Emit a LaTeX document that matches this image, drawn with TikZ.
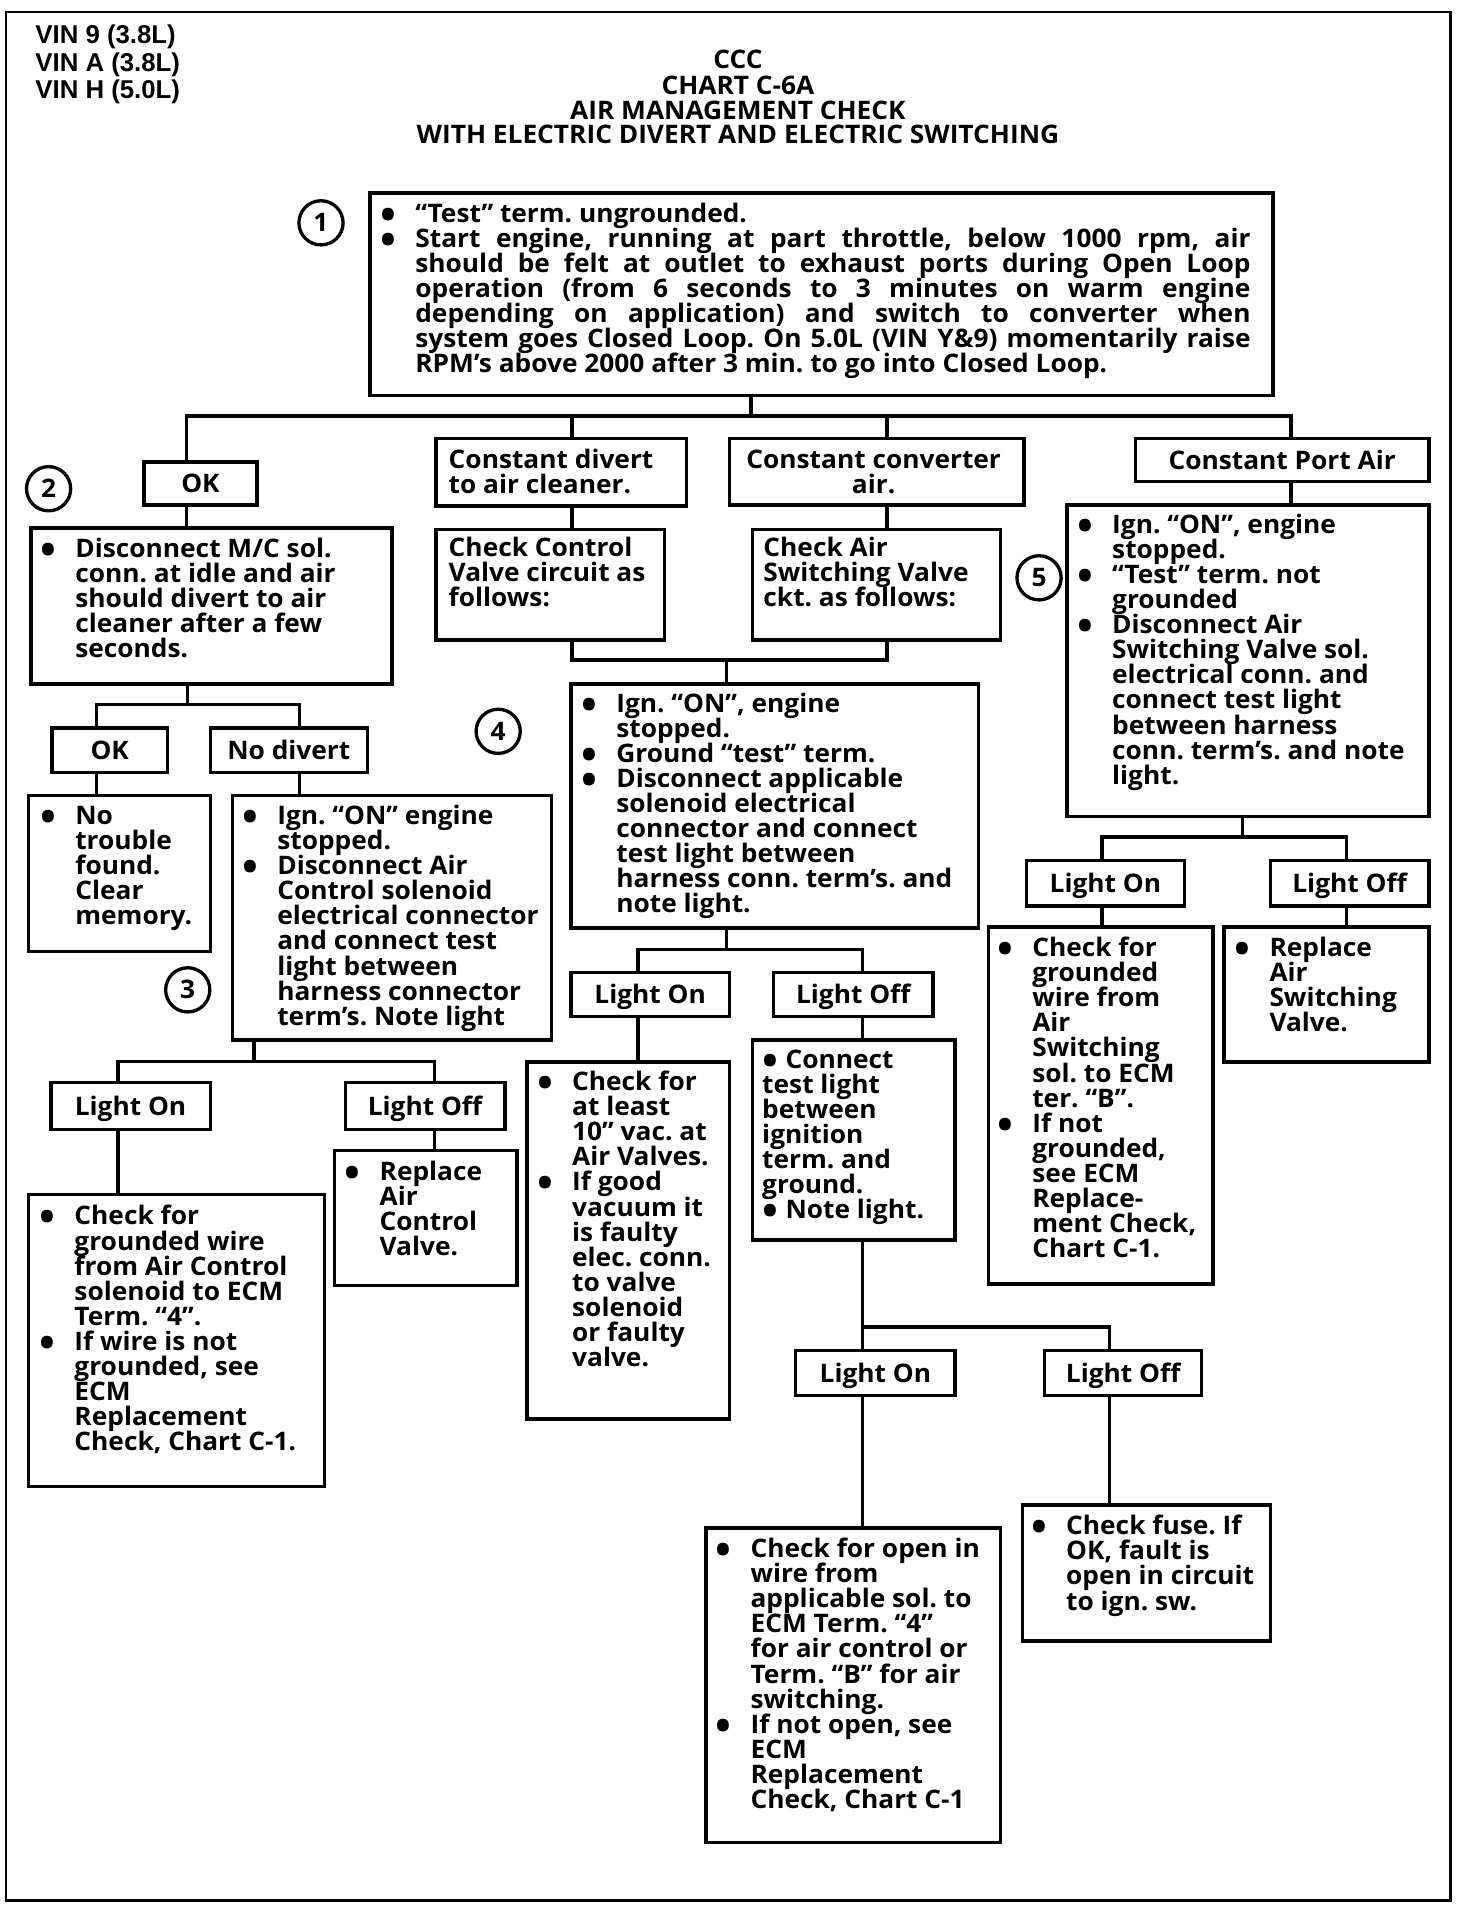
\documentclass[tikz,border=0pt]{standalone}
\usepackage{fontspec}
\usepackage{graphicx}
\setmainfont{Open Sans}[FakeStretch=1.03]
\newfontfamily\vinfont{Liberation Sans}
\newcommand\bodyfont{\bfseries\frenchspacing\fontsize{20.8}{20.4}\selectfont}
\newcommand\TL[1]{\vtop{\let\\\cr\baselineskip=20.4pt\lineskiplimit=-100pt\lineskip=0pt\halign{##\hfil\cr#1\crcr}}}
\newcommand\CL[1]{\vtop{\let\\\cr\baselineskip=20.4pt\lineskiplimit=-100pt\lineskip=0pt\halign{\hfil##\hfil\cr#1\crcr}}}
\newcommand\bul{\raisebox{-5.7pt}{\scalebox{1.6}{•}}}
\newcommand\Bu{\makebox[44pt][c]{\bul}}
\newcommand\Bs{\makebox[19pt][l]{\bul}}
\newcommand\In{\hspace*{44pt}}
\newcommand\J[1]{\makebox[680.7pt][s]{#1}}
\newcommand\Bx[5]{\node[bx, minimum width={#4-#2}, minimum height={#5-#3}] (#1) at (#2,#3) {};}
\newcommand\Lb[6]{\node[bx, lbl, minimum width={#4-#2}, minimum height={#5-#3}] (#1) at (#2,#3) {#6};}
\tikzset{
  bx/.style={draw, line width=2.8pt, inner sep=0pt, anchor=north west},
  lbl/.style={font=\bodyfont, text height=14.8pt, text depth=0pt},
  tx/.style={anchor=base west, inner sep=0pt, font=\bodyfont},
  ctx/.style={anchor=base, inner sep=0pt, font=\bodyfont},
  ln/.style={line width=2.8pt},
  circ/.style={draw, circle, line width=2.7pt, minimum size=36pt, inner sep=0pt, font=\bodyfont},
  outerframe/.style={line width=2pt},
  vin/.style={anchor=base west, inner sep=0pt, font=\vinfont\bfseries\fontsize{21}{21}\selectfont},
  ttl/.style={anchor=base, inner sep=0pt, font=\bodyfont}
}
\begin{document}
\begin{tikzpicture}[x=1pt, y=-1pt]
\fill[white] (0,0) rectangle (1200,1568);
\useasboundingbox (0,0) rectangle (1200,1568);
\draw[outerframe] (5,10) rectangle (1182,1549);

% header
\node[vin] (v1) at (28.7,35.6) {VIN 9 (3.8L)};
\node[vin] (v2) at (28.7,58) {VIN A (3.8L)};
\node[vin] (v3) at (28.7,80) {VIN H (5.0L)};
\node[ttl] (h1) at (601.4,56) {CCC};
\node[ttl] (h2) at (601.4,77) {CHART C-6A};
\node[ttl] (h3) at (601.4,97) {AIR MANAGEMENT CHECK};
\node[ttl] (h4) at (601.4,117) {WITH ELECTRIC DIVERT AND ELECTRIC SWITCHING};

% circles
\node[circ] (c1) at (261.6,181.6) {1};
\node[circ] (c2) at (39.6,398.3) {2};
\node[circ] (c3) at (153,806.7) {3};
\node[circ] (c4) at (406,596) {4};
\node[circ] (c5) at (846.8,470.9) {5};

% boxes
\Bx{b1}{300}{156}{1036}{321}
\Lb{ok1}{116}{375}{208}{410}{OK}
\Bx{cd}{354}{356}{558}{411}
\Bx{cc}{593}{356}{833}{410}
\Lb{cpa}{924}{356}{1163}{391}{Constant Port Air}
\Bx{b2}{24}{429}{318}{556}
\Bx{ccv}{354}{430}{540}{520}
\Bx{casv}{612}{430}{814}{520}
\Bx{b5}{868}{410}{1163}{664}
\Bx{b4}{464}{556}{796}{755}
\Lb{ok2}{41}{592}{135}{628}{OK}
\Lb{nd}{170}{592}{298}{628}{No divert}
\Bx{ntf}{22}{647}{170}{774}
\Bx{b3}{188}{647}{448}{846}
\Lb{lon4}{464}{791}{593}{827}{Light On}
\Lb{loff4}{629}{791}{759}{827}{Light Off}
\Lb{lon5}{835}{700}{964}{737}{Light On}
\Lb{loff5}{1034}{700}{1163}{737}{Light Off}
\Bx{b5on}{804}{754}{987}{1045}
\Bx{b5off}{996}{754}{1163}{864}
\Lb{lon3}{40}{881}{170}{919}{Light On}
\Lb{loff3}{280}{881}{410}{919}{Light Off}
\Bx{b3on}{22}{972}{263}{1210}
\Bx{b3off}{271}{936}{420}{1046}
\Bx{b4on}{428}{864}{593}{1155}
\Bx{b4off}{612}{846}{777}{1009}
\Lb{lon6}{647}{1099}{777}{1136}{Light On}
\Lb{loff6}{850}{1099}{978}{1136}{Light Off}
\Bx{b6on}{574}{1244}{814}{1500}
\Bx{b6off}{832}{1225}{1034}{1336}

% texts
\node[tx] (b1t) at (294.3,181.5) {\TL{\Bu “Test” term. ungrounded.\\
\Bu\J{Start engine, running at part throttle, below 1000 rpm, air}\\
\In\J{should be felt at outlet to exhaust ports during Open Loop}\\
\In\J{operation (from 6 seconds to 3 minutes on warm engine}\\
\In\J{depending on application) and switch to converter when}\\
\In\J{system goes Closed Loop. On 5.0L (VIN Y\&9) momentarily raise}\\
\In RPM’s above 2000 after 3 min. to go into Closed Loop.}};
\node[tx] (cdt) at (365.5,381.5) {\TL{Constant divert\\to air cleaner.}};
\node[ctx] (cct) at (712,381.5) {\CL{Constant converter\\air.}};
\node[tx] (b2t) at (17.2,454) {\TL{\Bu Disconnect M/C sol.\\ \In conn. at idle and air\\ \In should divert to air\\ \In cleaner after a few\\ \In seconds.}};
\node[tx] (ccvt) at (365.5,453.4) {\TL{Check Control\\Valve circuit as\\follows:}};
\node[tx] (casvt) at (622,453.4) {\TL{Check Air\\Switching Valve\\ckt. as follows:}};
\node[tx] (b5t) at (862.2,435) {\TL{\Bu Ign. “ON”, engine\\ \In stopped.\\ \Bu “Test” term. not\\ \In grounded\\ \Bu Disconnect Air\\ \In Switching Valve sol.\\ \In electrical conn. and\\ \In connect test light\\ \In between harness\\ \In conn. term’s. and note\\ \In light.}};
\node[tx] (b4t) at (458.1,580.4) {\TL{\Bu Ign. “ON”, engine\\ \In stopped.\\ \Bu Ground “test” term.\\ \Bu Disconnect applicable\\ \In solenoid electrical\\ \In connector and connect\\ \In test light between\\ \In harness conn. term’s. and\\ \In note light.}};
\node[tx] (ntft) at (17.2,672.2) {\TL{\Bu No\\ \In trouble\\ \In found.\\ \In Clear\\ \In memory.}};
\node[tx] (b3t) at (181.8,672.2) {\TL{\Bu Ign. “ON” engine\\ \In stopped.\\ \Bu Disconnect Air\\ \In Control solenoid\\ \In electrical connector\\ \In and connect test\\ \In light between\\ \In harness connector\\ \In term’s. Note light}};
\node[tx] (b5ont) at (797.1,779.8) {\TL{\Bu Check for\\ \In grounded\\ \In wire from\\ \In Air\\ \In Switching\\ \In sol. to ECM\\ \In ter. “B”.\\ \Bu If not\\ \In grounded,\\ \In see ECM\\ \In Replace-\\ \In ment Check,\\ \In Chart C-1.}};
\node[tx] (b5offt) at (990.4,779.8) {\TL{\Bu Replace\\ \In Air\\ \In Switching\\ \In Valve.}};
\node[tx] (b3ont) at (16.5,998.3) {\TL{\Bu Check for\\ \In grounded wire\\ \In from Air Control\\ \In solenoid to ECM\\ \In Term. “4”.\\ \Bu If wire is not\\ \In grounded, see\\ \In ECM\\ \In Replacement\\ \In Check, Chart C-1.}};
\node[tx] (b3offt) at (265.2,961.9) {\TL{\Bu Replace\\ \In Air\\ \In Control\\ \In Valve.}};
\node[tx] (b4ont) at (422.1,889) {\TL{\Bu Check for\\ \In at least\\ \In 10” vac. at\\ \In Air Valves.\\ \Bu If good\\ \In vacuum it\\ \In is faulty\\ \In elec. conn.\\ \In to valve\\ \In solenoid\\ \In or faulty\\ \In valve.}};
\node[tx] (b4offt) at (621,870.6) {\TL{\Bs Connect\\test light\\between\\ignition\\term. and\\ground.\\ \Bs Note light.}};
\node[tx] (b6ont) at (567.5,1269.6) {\TL{\Bu Check for open in\\ \In wire from\\ \In applicable sol. to\\ \In ECM Term. “4”\\ \In for air control or\\ \In Term. “B” for air\\ \In switching.\\ \Bu If not open, see\\ \In ECM\\ \In Replacement\\ \In Check, Chart C-1}};
\node[tx] (b6offt) at (824.7,1250.9) {\TL{\Bu Check fuse. If\\ \In OK, fault is\\ \In open in circuit\\ \In to ign. sw.}};

% connectors
\coordinate (t0) at (152,339);
\coordinate (t1) at (612,339);
\coordinate (t2) at (466,339);
\coordinate (t3) at (723,339);
\coordinate (t4) at (1052,339);
\draw[ln] (b1.south -| t1) -- (t1);
\draw[ln] (ok1.north -| t0) |- (t4) -- (cpa.north -| t4);
\draw[ln] (t2) -- (cd.north -| t2);
\draw[ln] (t3) -- (cc.north -| t3);
\draw[ln] (ok1.south -| t0) -- (b2.north -| t0);
\draw[ln] (cd.south -| t2) -- (ccv.north -| t2);
\draw[ln] (cc.south -| t3) -- (casv.north -| t3);
\coordinate (m1) at (592,538);
\draw[ln] (ccv.south -| t2) |- (m1) -| (casv.south -| t3);
\draw[ln] (m1) -- (b4.north -| m1);
\draw[ln] (cpa.south -| t4) -- (b5.north -| t4);

\coordinate (m2) at (153,574);
\coordinate (xa) at (78.5,574);
\coordinate (xb) at (244,574);
\draw[ln] (b2.south -| m2) -- (m2);
\draw[ln] (ok2.north -| xa) |- (xb) -- (nd.north -| xb);
\draw[ln] (ok2.south -| xa) -- (ntf.north -| xa);
\draw[ln] (nd.south -| xb) -- (b3.north -| xb);

\coordinate (m3) at (207,865);
\coordinate (xc) at (96,865);
\coordinate (xd) at (354,865);
\draw[ln] (b3.south -| m3) -- (m3);
\draw[ln] (lon3.north -| xc) |- (xd) -- (loff3.north -| xd);
\draw[ln] (lon3.south -| xc) -- (b3on.north -| xc);
\draw[ln] (loff3.south -| xd) -- (b3off.north -| xd);

\coordinate (m4) at (592,774);
\coordinate (xe) at (520,774);
\coordinate (xf) at (703,774);
\draw[ln] (b4.south -| m4) -- (m4);
\draw[ln] (lon4.north -| xe) |- (xf) -- (loff4.north -| xf);
\draw[ln] (lon4.south -| xe) -- (b4on.north -| xe);
\draw[ln] (loff4.south -| xf) -- (b4off.north -| xf);

\coordinate (m5) at (703,1081.5);
\coordinate (xg) at (904,1081.5);
\draw[ln] (b4off.south -| m5) -- (lon6.north -| m5);
\draw[ln] (m5) -| (loff6.north -| xg);
\draw[ln] (lon6.south -| m5) -- (b6on.north -| m5);
\draw[ln] (loff6.south -| xg) -- (b6off.north -| xg);

\coordinate (m6) at (1012.5,682);
\coordinate (xh) at (898,682);
\coordinate (xi) at (1097.5,682);
\draw[ln] (b5.south -| m6) -- (m6);
\draw[ln] (lon5.north -| xh) |- (xi) -- (loff5.north -| xi);
\draw[ln] (lon5.south -| xh) -- (b5on.north -| xh);
\draw[ln] (loff5.south -| xi) -- (b5off.north -| xi);
\end{tikzpicture}
\end{document}
